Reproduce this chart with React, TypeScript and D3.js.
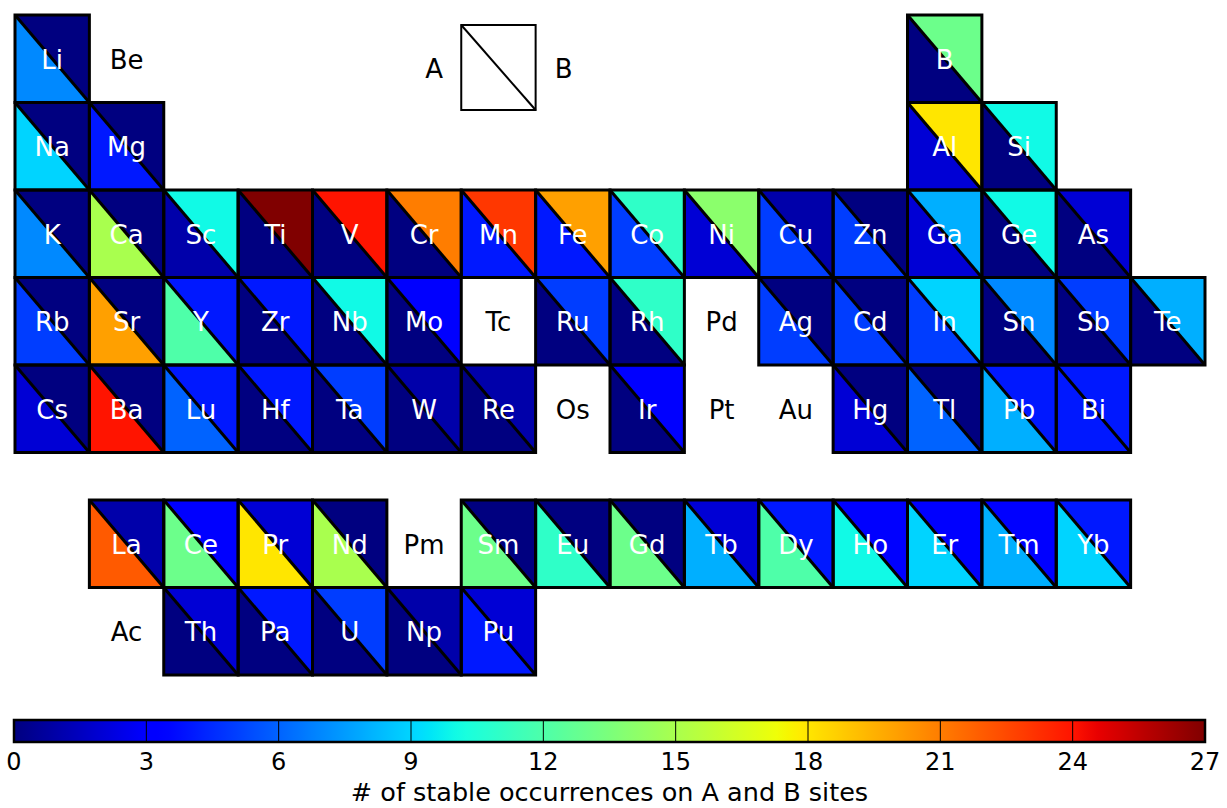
import * as d3 from 'd3';

// periodic table layout (column, row) and stable-occurrence counts on A / B sites
const symbols = [
  'Li', 'Be', 'B',
  'Na', 'Mg', 'Al', 'Si',
  'K', 'Ca', 'Sc', 'Ti', 'V', 'Cr', 'Mn', 'Fe', 'Co', 'Ni', 'Cu', 'Zn', 'Ga', 'Ge', 'As',
  'Rb', 'Sr', 'Y', 'Zr', 'Nb', 'Mo', 'Tc', 'Ru', 'Rh', 'Pd', 'Ag', 'Cd', 'In', 'Sn', 'Sb', 'Te',
  'Cs', 'Ba', 'Lu', 'Hf', 'Ta', 'W', 'Re', 'Os', 'Ir', 'Pt', 'Au', 'Hg', 'Tl', 'Pb', 'Bi',
  'La', 'Ce', 'Pr', 'Nd', 'Pm', 'Sm', 'Eu', 'Gd', 'Tb', 'Dy', 'Ho', 'Er', 'Tm', 'Yb',
  'Ac', 'Th', 'Pa', 'U', 'Np', 'Pu',
];
const columns = [
  0, 1, 12,
  0, 1, 12, 13,
  0, 1, 2, 3, 4, 5, 6, 7, 8, 9, 10, 11, 12, 13, 14,
  0, 1, 2, 3, 4, 5, 6, 7, 8, 9, 10, 11, 12, 13, 14, 15,
  0, 1, 2, 3, 4, 5, 6, 7, 8, 9, 10, 11, 12, 13, 14,
  1, 2, 3, 4, 5, 6, 7, 8, 9, 10, 11, 12, 13, 14,
  1, 2, 3, 4, 5, 6,
];
const rows = [
  0, 0, 0,
  1, 1, 1, 1,
  2, 2, 2, 2, 2, 2, 2, 2, 2, 2, 2, 2, 2, 2, 2,
  3, 3, 3, 3, 3, 3, 3, 3, 3, 3, 3, 3, 3, 3, 3, 3,
  4, 4, 4, 4, 4, 4, 4, 4, 4, 4, 4, 4, 4, 4, 4,
  5, 5, 5, 5, 5, 5, 5, 5, 5, 5, 5, 5, 5, 5,
  6, 6, 6, 6, 6, 6,
];
const aSite: (number | null)[] = [
  7, null, 0,
  9, 4, 2, 0,
  7, 15, 1, 0, 0, 0, 4, 4, 5, 2, 5, 5, 2, 0, 0,
  5, 20, 12, 0, 0, 0, null, 0, 0, null, 5, 5, 5, 0, 0, 0,
  2, 24, 6, 0, 0, 0, 0, null, 0, null, null, 2, 6, 8, 4,
  22, 13, 18, 15, null, 13, 11, 13, 8, 12, 10, 9, 8, 9,
  null, 0, 0, 0, 0, 4,
];
const bSite: (number | null)[] = [
  0, null, 13,
  0, 0, 18, 10,
  0, 0, 10, 27, 24, 21, 23, 20, 11, 14, 1, 0, 8, 10, 2,
  0, 0, 4, 4, 10, 3, null, 5, 11, null, 0, 0, 9, 7, 5, 8,
  0, 0, 4, 4, 5, 1, 1, null, 3, null, null, 0, 0, 4, 4,
  1, 3, 2, 0, null, 0, 0, 0, 2, 4, 3, 3, 3, 4,
  null, 2, 4, 5, 1, 2,
];
const colorbarTicks = [0, 3, 6, 9, 12, 15, 18, 21, 24, 27];
const colorbarTitle = '# of stable occurrences on A and B sites';

const W = 1227;
const H = 808;
const FONT = 'DejaVu Sans, Verdana, sans-serif';

// matplotlib "jet"
const rCh = d3.scaleLinear().domain([0, 0.35, 0.66, 0.89, 1]).range([0, 0, 1, 1, 0.5]).clamp(true);
const gCh = d3.scaleLinear().domain([0, 0.125, 0.375, 0.64, 0.91, 1]).range([0, 0, 1, 1, 0, 0]).clamp(true);
const bCh = d3.scaleLinear().domain([0, 0.11, 0.34, 0.65, 1]).range([0.5, 1, 1, 0, 0]).clamp(true);
const jet = (t: number) => d3.rgb(rCh(t) * 255, gCh(t) * 255, bCh(t) * 255).formatHex();

const vmax = 27;
const color = (v: number) => jet(v / vmax);

export default function App() {
  const x = d3.scaleLinear().domain([0, 16]).range([15, 1205]);
  // main block rows 0-4, f-block rows pushed down by a gap
  const y = d3.scaleLinear().domain([0, 1]).range([15, 102.5]);
  const rowTop = (r: number) => (r >= 5 ? y(r + 0.543) : y(r));
  const cw = x(1) - x(0);
  const ch = y(1) - y(0);

  const cb = d3.scaleLinear().domain([0, vmax]).range([14, 1205]);
  const cbTop = 720;
  const cbH = 22;
  const gradStops = d3.range(0, 1.0001, 0.01);

  const cells = symbols.map((s, i) => ({
    s,
    x0: x(columns[i]),
    y0: rowTop(rows[i]),
    a: aSite[i],
    b: bSite[i],
  }));
  const filled = cells.filter(c => c.a !== null);

  const legendX = x(6);
  const legendY = 25;
  const legendH = 85;

  return (
    <svg width={W} height={H} style={{ position: 'absolute', left: 0, top: 0, background: '#fff' }}
      fontFamily={FONT}>
      <defs>
        <linearGradient id="jetgrad" x1="0" x2="1" y1="0" y2="0">
          {gradStops.map(t => <stop key={t} offset={t} stopColor={jet(t)} />)}
        </linearGradient>
      </defs>

      {/* A (lower-left) and B (upper-right) triangles */}
      {filled.map(c => (
        <g key={c.s}>
          <polygon points={`${c.x0},${c.y0} ${c.x0 + cw},${c.y0 + ch} ${c.x0},${c.y0 + ch}`}
            fill={color(c.a as number)} />
          <polygon points={`${c.x0},${c.y0} ${c.x0 + cw},${c.y0} ${c.x0 + cw},${c.y0 + ch}`}
            fill={color(c.b as number)} />
        </g>
      ))}
      {filled.map(c => (
        <g key={c.s + '-edge'} fill="none" stroke="#000" strokeWidth={3}>
          <rect x={c.x0} y={c.y0} width={cw} height={ch} />
          <line x1={c.x0} y1={c.y0} x2={c.x0 + cw} y2={c.y0 + ch} />
        </g>
      ))}
      {cells.map(c => (
        <text key={c.s + '-t'} x={c.x0 + cw / 2} y={c.y0 + ch / 2 + 10} textAnchor="middle"
          fontSize={26} fill={c.a === null ? '#000' : '#fff'}>
          {c.s}
        </text>
      ))}

      {/* A / B legend */}
      <rect x={legendX} y={legendY} width={cw} height={legendH} fill="#fff" stroke="#000" strokeWidth={2} />
      <line x1={legendX} y1={legendY} x2={legendX + cw} y2={legendY + legendH} stroke="#000" strokeWidth={2} />
      <text x={legendX - 27} y={legendY + legendH / 2 + 10} textAnchor="middle" fontSize={26}>A</text>
      <text x={legendX + cw + 28} y={legendY + legendH / 2 + 10} textAnchor="middle" fontSize={26}>B</text>

      {/* colorbar */}
      <rect x={cb(0)} y={cbTop} width={cb(vmax) - cb(0)} height={cbH} fill="url(#jetgrad)" />
      {colorbarTicks.slice(1, -1).map(t => (
        <line key={t} x1={cb(t)} x2={cb(t)} y1={cbTop} y2={cbTop + cbH} stroke="#000" strokeWidth={1} />
      ))}
      <rect x={cb(0)} y={cbTop} width={cb(vmax) - cb(0)} height={cbH} fill="none" stroke="#000" strokeWidth={2.5} />
      {colorbarTicks.map(t => (
        <text key={t} x={cb(t)} y={770} textAnchor="middle" fontSize={24} fill="#000">{t}</text>
      ))}
      <text x={(cb(0) + cb(vmax)) / 2} y={801} textAnchor="middle" fontSize={25.5}>
        {colorbarTitle}
      </text>
    </svg>
  );
}
